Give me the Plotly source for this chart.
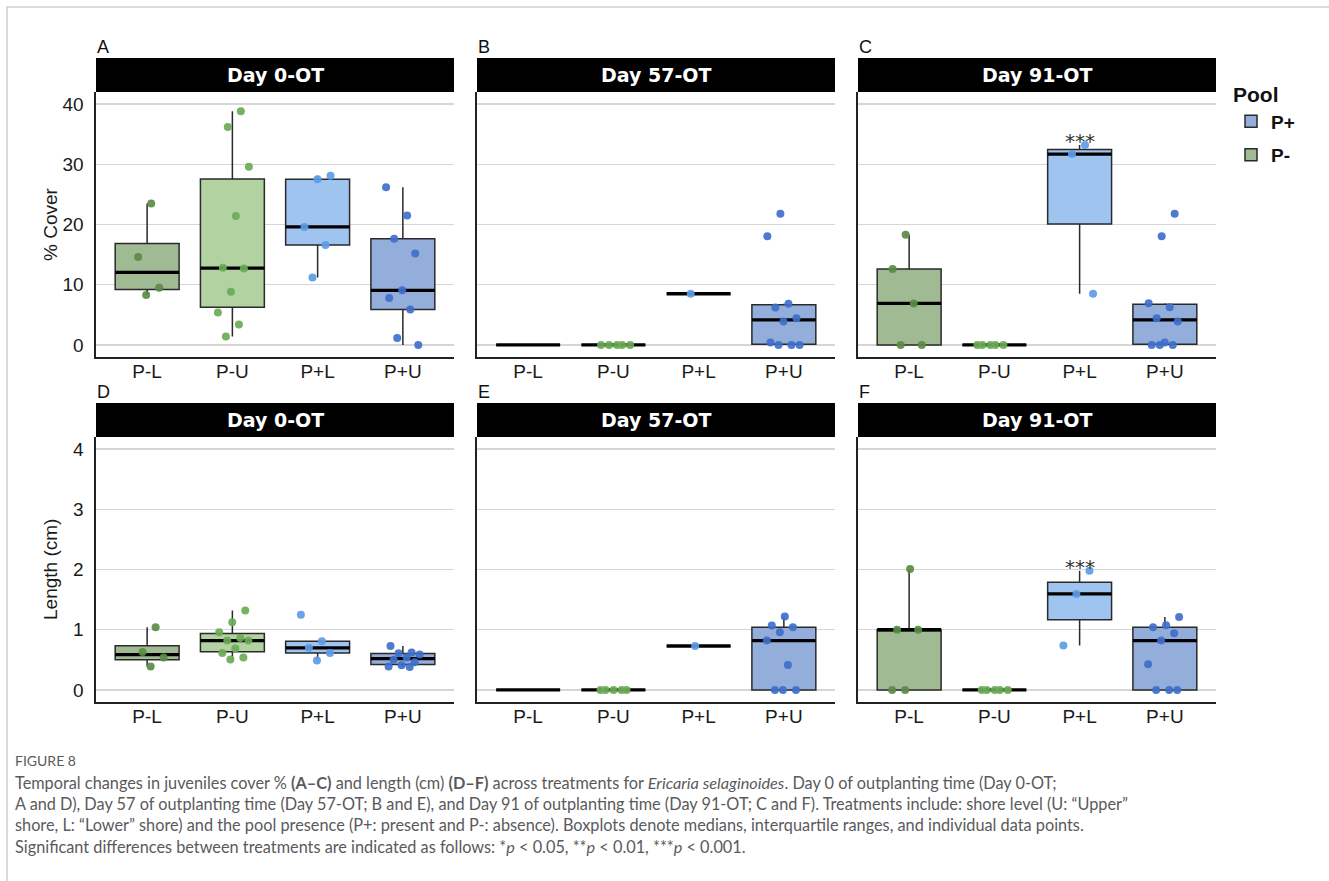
import numpy as np
import plotly.graph_objects as go

# ---------------- data ----------------
treatments = ["P-L", "P-U", "P+L", "P+U"]
pool_of = {"P-L": "P-", "P-U": "P-", "P+L": "P+", "P+U": "P+"}
days = ["Day 0-OT", "Day 57-OT", "Day 91-OT"]
letters_cover = ["A", "B", "C"]
letters_length = ["D", "E", "F"]

# % cover
cover_d0_PL = [23.5, 14.6, 9.5, 8.3]
cover_d0_PU = [38.8, 36.2, 29.6, 21.4, 12.8, 12.7, 8.85, 5.4, 3.4, 1.4]
cover_d0_PpL = [28.1, 27.5, 19.6, 16.6, 11.2]
cover_d0_PpU = [26.2, 21.5, 17.65, 15.2, 9.07, 7.8, 5.9, 1.16, 0.0]

cover_d57_PL = [0, 0, 0, 0, 0]
cover_d57_PU = [0, 0, 0, 0, 0]
cover_d57_PpL = [8.5]
cover_d57_PpU = [21.8, 18.06, 6.83, 6.22, 4.44, 3.89, 0.39, 0, 0, 0]

cover_d91_PL = [18.3, 12.6, 6.9, 0, 0]
cover_d91_PU = [0, 0, 0, 0, 0]
cover_d91_PpL = [33.2, 31.7, 8.5]
cover_d91_PpU = [21.8, 18.06, 6.94, 6.28, 4.44, 3.9, 0.39, 0, 0, 0]

# length (cm)
length_d0_PL = [1.04, 0.63, 0.54, 0.39]
length_d0_PU = [1.32, 1.125, 0.96, 0.864, 0.82, 0.82, 0.687, 0.615, 0.54, 0.504]
length_d0_PpL = [1.247, 0.81, 0.70, 0.615, 0.49]
length_d0_PpU = [0.73, 0.62, 0.61, 0.59, 0.54, 0.50, 0.46, 0.41, 0.39, 0.38]

length_d57_PL = [0, 0, 0, 0, 0]
length_d57_PU = [0, 0, 0, 0, 0]
length_d57_PpL = [0.73]
length_d57_PpU = [1.22, 1.07, 1.04, 0.96, 0.82, 0.415, 0, 0, 0]

length_d91_PL = [2.01, 1.0, 1.0, 0, 0]
length_d91_PU = [0, 0, 0, 0, 0]
length_d91_PpL = [1.98, 1.595, 0.737]
length_d91_PpU = [1.213, 1.075, 1.04, 0.94, 0.82, 0.427, 0, 0, 0]

cover = {
    "Day 0-OT": [cover_d0_PL, cover_d0_PU, cover_d0_PpL, cover_d0_PpU],
    "Day 57-OT": [cover_d57_PL, cover_d57_PU, cover_d57_PpL, cover_d57_PpU],
    "Day 91-OT": [cover_d91_PL, cover_d91_PU, cover_d91_PpL, cover_d91_PpU],
}
length = {
    "Day 0-OT": [length_d0_PL, length_d0_PU, length_d0_PpL, length_d0_PpU],
    "Day 57-OT": [length_d57_PL, length_d57_PU, length_d57_PpL, length_d57_PpU],
    "Day 91-OT": [length_d91_PL, length_d91_PU, length_d91_PpL, length_d91_PpU],
}
# groups whose jittered points are not visible in the original
points_hidden = {"Day 57-OT": ["P-L"]}
# significance labels (day, treatment)
signif = {"Day 91-OT": ("P+L", "***")}

cover_ticks = [0, 10, 20, 30, 40]
length_ticks = [0, 1, 2, 3, 4]

# ---------------- styles ----------------
W, H = 1329, 881
box_fill = {"P-L": "#a0ba93", "P-U": "#b3d2a2", "P+L": "#a0c4f0", "P+U": "#94aedb"}
pt_color = {"P-L": "#5a8c45", "P-U": "#6aab55", "P+L": "#5c9be8", "P+U": "#3f6fcc"}
TICK_FONT = dict(family="Liberation Sans, Arial, sans-serif", size=19, color="#1a1a1a")
col_left = [96, 477, 858]
col_w = 358
row_top = [92, 437]
row_h = 265
strip_h = 34


def px_x(p):
    return p / W


def px_y(p):
    return 1 - p / H


def box_stats(v):
    a = np.asarray(v, dtype=float)
    q1, med, q3 = np.percentile(a, [25, 50, 75])
    iqr = q3 - q1
    lo = a[a >= q1 - 1.5 * iqr].min()
    hi = a[a <= q3 + 1.5 * iqr].max()
    return q1, med, q3, min(lo, q1), max(hi, q3)


fig = go.Figure()
shapes, annotations = [], []
legend_done = set()

panels = [(0, c, cover, letters_cover[c]) for c in range(3)] + \
         [(1, c, length, letters_length[c]) for c in range(3)]

BOXW = 0.75
for (r, c, dataset, letter) in panels:
    i = r * 3 + c + 1
    xa = "x" if i == 1 else f"x{i}"
    ya = "y" if i == 1 else f"y{i}"
    day = days[c]
    groups = dataset[day]
    # boxes
    for g, (tr, vals) in enumerate(zip(treatments, groups)):
        pos = g + 1
        q1, med, q3, lf, uf = box_stats(vals)
        pool = pool_of[tr]
        show = False
        if r == 0 and c == 0 and tr in ("P+U", "P-L") and pool not in legend_done:
            show = True
            legend_done.add(pool)
        fig.add_trace(go.Box(
            x=[pos], q1=[q1], median=[med], q3=[q3], lowerfence=[lf], upperfence=[uf],
            width=BOXW, fillcolor=box_fill[tr], line=dict(color="#2a2a2a", width=1.5),
            whiskerwidth=0, boxpoints=False, name=pool, showlegend=show,
            legendgroup=pool, legendrank=1 if pool == "P+" else 2,
            xaxis=xa, yaxis=ya, hoverinfo="skip"))
    # medians (thick)
    for g, (tr, vals) in enumerate(zip(treatments, groups)):
        pos = g + 1
        med = float(np.median(vals))
        fig.add_trace(go.Scatter(
            x=[pos - BOXW / 2, pos + BOXW / 2], y=[med, med], mode="lines",
            line=dict(color="#000000", width=3.3), showlegend=False,
            xaxis=xa, yaxis=ya, hoverinfo="skip"))
    # jittered points
    for g, (tr, vals) in enumerate(zip(treatments, groups)):
        if tr in points_hidden.get(day, []):
            continue
        pos = g + 1
        n = len(vals)
        k = np.arange(n)
        jit = 0.2 * (2 * (((k + 1) * 0.6180339887 + 0.13 * (g + 3 * c + r)) % 1.0) - 1)
        fig.add_trace(go.Scatter(
            x=pos + jit, y=vals, mode="markers",
            marker=dict(color=pt_color[tr], size=8, opacity=0.92, line=dict(width=0)),
            showlegend=False, xaxis=xa, yaxis=ya, hoverinfo="skip"))
    # significance
    if day in signif:
        tr, lab = signif[day]
        g = treatments.index(tr)
        annotations.append(dict(
            x=g + 1, y=max(groups[g]), xref=xa, yref=ya, text=lab, showarrow=False,
            yanchor="bottom", xanchor="center", yshift=-10,
            font=dict(family="DejaVu Sans, sans-serif", size=20, color="#333333")))

    # axes
    x0, y0 = col_left[c], row_top[r]
    ticks = cover_ticks if dataset is cover else length_ticks
    yr = [-2, 42] if dataset is cover else [-0.2, 4.2]
    fig.layout[f"xaxis{'' if i == 1 else i}"] = dict(
        domain=[px_x(x0), px_x(x0 + col_w)], anchor=ya, range=[0.4, 4.6],
        tickvals=[1, 2, 3, 4], ticktext=treatments, showgrid=False, zeroline=False,
        showline=True, linecolor="#222222", linewidth=1.6, ticks="",
        ticklabelstandoff=-3, tickfont=TICK_FONT, fixedrange=True)
    fig.layout[f"yaxis{'' if i == 1 else i}"] = dict(
        domain=[px_y(y0 + row_h), px_y(y0)], anchor=xa, range=yr,
        tickvals=ticks, showticklabels=(c == 0), showgrid=True, gridcolor="#d6d6d6",
        gridwidth=1.2, zeroline=False, showline=True, linecolor="#222222",
        linewidth=1.6, ticks="", ticklabelstandoff=7, tickfont=TICK_FONT,
        fixedrange=True)
    # strip
    xd = f"{xa} domain"
    yd = f"{ya} domain"
    shapes.append(dict(type="rect", xref=xd, yref=yd, x0=0, x1=1, y0=1,
                       y1=1 + strip_h / row_h, fillcolor="#000000", line=dict(width=0),
                       layer="above"))
    annotations.append(dict(xref=xd, yref=yd, x=0.5, y=1 + strip_h / 2 / row_h,
                            text=f"<b>{day}</b>", showarrow=False,
                            xanchor="center", yanchor="middle",
                            font=dict(family="DejaVu Sans, Verdana, sans-serif",
                                      size=19, color="#ffffff")))
    # panel letter
    annotations.append(dict(xref="paper", yref="paper", x=px_x(x0 - 1),
                            y=px_y(y0 - strip_h - 11), text=letter, showarrow=False,
                            xanchor="left", yanchor="middle",
                            font=dict(family="Liberation Sans, Arial, sans-serif",
                                      size=18, color="#111111")))

# axis titles
for text, yc in [("% Cover", 224), ("Length (cm)", 570)]:
    annotations.append(dict(xref="paper", yref="paper", x=px_x(50), y=px_y(yc),
                            text=text, textangle=-90, showarrow=False,
                            xanchor="center", yanchor="middle",
                            font=dict(family="Liberation Sans, Arial, sans-serif",
                                      size=19, color="#1a1a1a")))

# caption
cap_font = dict(family="Lato, sans-serif", size=16.3, color="#5a5a5c")
annotations.append(dict(xref="paper", yref="paper", x=px_x(13), y=px_y(760),
                        text="FIGURE 8", showarrow=False, xanchor="left",
                        yanchor="middle", font=dict(family="Lato, sans-serif",
                                                     size=14, color="#5a5a5c")))
caption_lines = [
    "Temporal changes in juveniles cover % <b>(A–C)</b> and length (cm) <b>(D–F)</b> "
    "across treatments for <i>Ericaria selaginoides</i>. Day 0 of outplanting time (Day 0-OT;",
    "A and D), Day 57 of outplanting time (Day 57-OT; B and E), and Day 91 of outplanting "
    "time (Day 91-OT; C and F). Treatments include: shore level (U: “Upper”",
    "shore, L: “Lower” shore) and the pool presence (P+: present and P-: absence). "
    "Boxplots denote medians, interquartile ranges, and individual data points.",
    "Significant differences between treatments are indicated as follows: "
    "*<i>p</i> &lt; 0.05, **<i>p</i> &lt; 0.01, ***<i>p</i> &lt; 0.001.",
]
annotations.append(dict(xref="paper", yref="paper", x=px_x(13), y=px_y(771),
                        text="<br>".join(caption_lines), showarrow=False,
                        xanchor="left", yanchor="top", align="left", font=cap_font))

# outer frame
shapes.append(dict(type="rect", xref="paper", yref="paper", x0=px_x(7), x1=1.02,
                   y0=-0.02, y1=px_y(7), line=dict(color="#cfcfcf", width=1.5),
                   fillcolor="rgba(0,0,0,0)", layer="below"))

fig.update_layout(
    width=W, height=H, margin=dict(l=0, r=0, t=0, b=0),
    paper_bgcolor="#ffffff", plot_bgcolor="#ffffff",
    shapes=shapes, annotations=annotations, boxmode="overlay",
    legend=dict(x=px_x(1231), y=px_y(75), xanchor="left", yanchor="top",
                title=dict(text="<b>Pool</b>",
                           font=dict(family="Liberation Sans, Arial, sans-serif",
                                     size=21, color="#111111")),
                font=dict(family="Liberation Sans, Arial, sans-serif", size=19,
                          color="#111111", weight="bold"),
                bgcolor="rgba(0,0,0,0)", tracegroupgap=6),
    showlegend=True,
)

fig.write_html("out.html", config={"displayModeBar": False, "staticPlot": True},
               post_script="document.body.style.margin='0';document.body.style.overflow='hidden';")
